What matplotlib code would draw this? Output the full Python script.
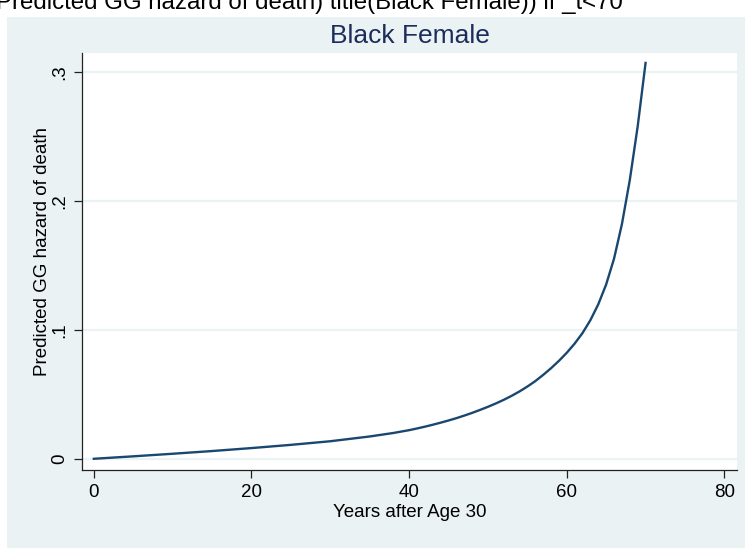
import matplotlib
matplotlib.use('Agg')
import matplotlib.pyplot as plt
from matplotlib.patches import Rectangle

# Values
years = [0, 5, 10, 15, 20, 25, 30, 35, 38, 40, 41, 42, 43, 44, 45, 46, 47,
         48, 49, 50, 51, 52, 53, 54, 55, 56, 57, 58, 59, 60, 61, 62, 63, 64,
         65, 66, 67, 68, 69, 70]
hazard = [0.0, 0.0019, 0.0039, 0.006, 0.0083, 0.0108, 0.0136, 0.0173, 0.0200,
          0.0222, 0.0235, 0.0249, 0.0264, 0.0280, 0.0297, 0.0315, 0.0335,
          0.0356, 0.0379, 0.0403, 0.0429, 0.0457, 0.0488, 0.0522, 0.0560,
          0.0602, 0.0650, 0.0702, 0.0759, 0.0822, 0.0893, 0.0975, 0.1075,
          0.1198, 0.1352, 0.1552, 0.182, 0.2162, 0.2578, 0.307]
xticks = [0, 20, 40, 60, 80]
yticks = [0, 0.1, 0.2, 0.3]
ytick_labels = ['0', '.1', '.2', '.3']

plt.rcParams['font.family'] = ['Liberation Sans', 'DejaVu Sans']

W, H = 745, 548
fig = plt.figure(figsize=(W / 100, H / 100), dpi=100, facecolor='white')
bg = '#EAF2F3'
fig.patches.append(Rectangle((7 / W, 0), 1, 1 - 17 / H, transform=fig.transFigure,
                             facecolor=bg, edgecolor='none', zorder=-10))
fig.text(-4 / W, 1 - 9.5 / H,
         'Predicted GG hazard of death) title(Black Female)) if _t<70',
         fontsize=17.3, color='black', ha='left', va='baseline')

ax = fig.add_axes([82 / W, 1 - 470 / H, (737 - 82) / W, (470 - 53) / H])
ax.set_facecolor('white')
ax.plot(years, hazard, color='#1A476F', lw=1.7, zorder=3)

ax.set_xlim(-1.5, 81.6)
ax.set_ylim(-0.0087, 0.3147)
ax.set_xticks(xticks)
ax.set_yticks(yticks, ytick_labels)
ax.grid(axis='y', color=bg, lw=1.6)
ax.set_axisbelow(True)

for s in ['top', 'right']:
    ax.spines[s].set_visible(False)
for s in ['left', 'bottom']:
    ax.spines[s].set_color('#222222')
    ax.spines[s].set_linewidth(0.9)

ax.tick_params(axis='both', direction='out', length=6, width=0.9,
               color='#222222', labelsize=13.5, labelcolor='black')
ax.tick_params(axis='x', pad=4)
ax.tick_params(axis='y', pad=4)
for lab in ax.get_yticklabels():
    lab.set_rotation(90)
    lab.set_va('center')

ax.set_xlabel('Years after Age 30', fontsize=13.5, labelpad=2)
ax.set_ylabel('Predicted GG hazard of death', fontsize=13.5)
ax.yaxis.set_label_coords(-31 / (737 - 82), (470 - 252) / (470 - 53))
ax.set_title('Black Female', fontsize=19, color='#1C2D5C', pad=7)

fig.savefig('out.png', dpi=100, facecolor='white')
